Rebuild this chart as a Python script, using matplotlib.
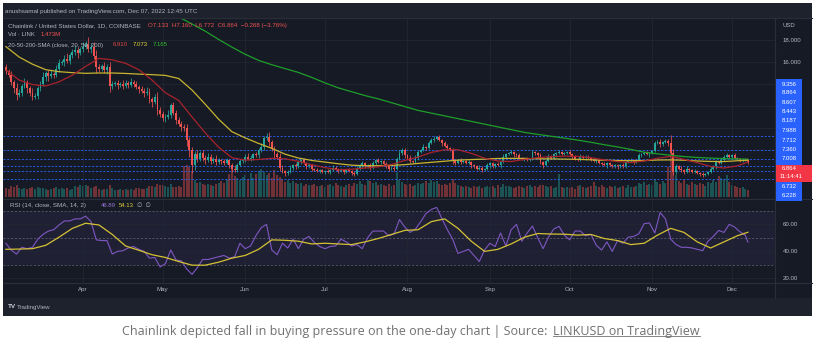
import matplotlib.pyplot as plt
import numpy as np
import pandas as pd
from matplotlib.patches import Rectangle
from matplotlib.lines import Line2D

plt.rcParams['font.family'] = ['Liberation Sans', 'DejaVu Sans']

# ---- data (LINK/USD daily) ----
dates = pd.date_range('2022-03-03', '2022-12-07', freq='D')
first_open = 15.5
closes = [
    15.2, 14.8, 14.2, 13.6, 13.0, 13.2, 13.8, 14.1, 13.6, 13.2,
    12.8, 12.9, 13.6, 14.0, 14.6, 15.0, 14.7, 14.9, 14.8, 15.4,
    15.9, 16.0, 16.3, 16.1, 16.6, 16.9, 17.1, 16.8, 17.2, 17.4,
    17.6, 17.2, 17.4, 16.5, 15.5, 15.4, 15.6, 15.3, 15.5, 13.8,
    14.0, 14.1, 13.9, 14.0, 13.8, 14.1, 13.9, 14.2, 14.0, 13.7,
    13.5, 13.4, 13.2, 13.3, 12.6, 12.4, 12.8, 11.6, 11.3, 10.9,
    11.0, 11.2, 12.1, 11.4, 10.7, 10.4, 10.1, 10.0, 8.9, 8.0,
    6.6, 7.6, 7.2, 7.7, 7.3, 7.1, 7.4, 7.0, 7.2, 6.9,
    7.1, 7.0, 6.8, 7.1, 6.6, 6.3, 6.2, 6.6, 7.0, 7.1,
    7.4, 7.2, 7.3, 7.6, 7.5, 8.0, 8.3, 9.1, 9.2, 8.7,
    8.1, 7.6, 7.4, 6.4, 6.1, 5.9, 6.0, 6.4, 6.6, 6.5,
    6.9, 7.1, 6.8, 6.5, 6.6, 6.3, 6.2, 6.1, 6.2, 6.0,
    6.1, 6.0, 6.2, 6.4, 6.3, 6.1, 6.2, 6.0, 6.2, 6.1,
    5.9, 5.8, 6.3, 6.6, 6.8, 6.5, 6.6, 6.4, 6.8, 7.1,
    6.9, 7.0, 6.7, 6.5, 6.3, 6.4, 6.3, 7.2, 7.7, 8.0,
    7.5, 7.3, 7.0, 6.9, 7.3, 7.8, 8.0, 8.3, 8.2, 8.6,
    8.9, 9.0, 9.2, 8.9, 8.6, 8.4, 8.2, 8.0, 7.0, 6.8,
    7.1, 6.9, 7.0, 6.8, 6.9, 6.6, 6.5, 6.3, 6.4, 6.2,
    6.3, 6.6, 6.8, 6.5, 6.7, 6.6, 6.9, 7.4, 7.6, 7.7,
    7.8, 7.6, 7.5, 7.3, 7.2, 7.3, 7.1, 7.2, 7.8, 7.7,
    7.5, 6.9, 6.6, 7.0, 7.4, 7.3, 7.6, 7.7, 7.8, 7.6,
    7.7, 7.8, 7.6, 7.4, 7.2, 7.1, 7.4, 7.3, 7.4, 7.3,
    7.1, 7.0, 7.1, 6.8, 6.7, 6.6, 6.8, 6.6, 6.5, 6.6,
    6.5, 6.6, 6.5, 6.9, 7.0, 7.1, 6.9, 7.1, 7.5, 7.6,
    7.7, 7.6, 7.7, 7.9, 8.6, 8.7, 8.5, 8.7, 8.8, 8.6,
    7.7, 6.0, 6.5, 6.3, 6.2, 6.0, 6.3, 6.2, 6.0, 6.1,
    5.9, 5.8, 5.7, 5.8, 6.0, 6.3, 6.5, 6.9, 6.8, 7.1,
    7.4, 7.5, 7.4, 7.5, 7.3, 7.2, 7.0, 7.1, 7.133, 6.864,
]
wick_hi = [
    .3, .2, .4, .2, .5, .3, .2, .4, .3, .2,
    .4, .3, .2, .3, .5, .2, .3, .4, .2, .3,
    .4, .2, .3, .5, .2, .3, .4, .3, .2, .4,
    .3, .7, .3, .4, .6, .3, .2, .4, .3, .5,
    .3, .2, .3, .2, .4, .3, .2, .3, .2, .3,
    .2, .3, .2, .4, .3, .2, .3, .5, .3, .2,
    .3, .4, .2, .3, .2, .3, .2, .3, .4, .3,
    .3, .3, .4, .2, .3, .2, .3, .2, .2, .3,
    .2, .1, .2, .2, .1, .2, .3, .2, .2, .1,
    .2, .3, .2, .1, .2, .2, .3, .2, .3, .4,
    .2, .3, .2, .3, .2, .1, .2, .2, .1, .2,
    .2, .1, .2, .1, .2, .1, .1, .2, .1, .1,
    .1, .2, .1, .2, .1, .1, .2, .1, .1, .2,
    .1, .2, .2, .1, .2, .1, .1, .2, .2, .1,
    .2, .1, .1, .2, .1, .1, .2, .2, .3, .2,
    .2, .1, .2, .1, .2, .2, .1, .2, .1, .2,
    .2, .3, .1, .2, .1, .2, .1, .1, .2, .2,
    .1, .2, .1, .1, .2, .1, .1, .1, .2, .1,
    .1, .2, .1, .1, .1, .2, .1, .2, .1, .1,
    .2, .1, .1, .2, .1, .1, .1, .1, .2, .1,
    .1, .2, .1, .1, .2, .1, .1, .1, .2, .1,
    .1, .1, .2, .1, .1, .1, .2, .1, .1, .1,
    .1, .2, .1, .1, .1, .2, .1, .1, .1, .1,
    .1, .1, .2, .1, .1, .2, .1, .1, .2, .1,
    .1, .2, .1, .1, .2, .2, .3, .1, .2, .2,
    .76, .4, .2, .1, .2, .1, .2, .1, .1, .2,
    .1, .1, .2, .1, .1, .2, .1, .2, .1, .2,
    .1, .2, .1, .1, .2, .1, .1, .1, .03, .027,
]
wick_lo = [
    .3, .2, .3, .4, .5, .2, .3, .2, .4, .3,
    .3, .2, .3, .2, .2, .3, .4, .2, .3, .2,
    .3, .2, .4, .2, .3, .2, .3, .4, .2, .3,
    .2, .3, .4, .2, .5, .3, .2, .3, .4, .5,
    .3, .2, .4, .2, .3, .2, .3, .2, .3, .2,
    .3, .2, .4, .2, .3, .5, .2, .4, .3, .3,
    .4, .2, .3, .2, .3, .2, .4, .3, .5, .6,
    .7, .4, .3, .2, .3, .4, .2, .3, .2, .3,
    .2, .3, .2, .1, .2, .3, .2, .2, .1, .2,
    .2, .1, .2, .2, .1, .2, .2, .3, .2, .3,
    .2, .3, .2, .3, .2, .3, .2, .1, .2, .2,
    .1, .2, .1, .2, .1, .2, .1, .1, .2, .1,
    .2, .1, .2, .1, .1, .2, .1, .2, .1, .1,
    .2, .2, .1, .1, .2, .1, .1, .2, .1, .2,
    .1, .2, .1, .1, .2, .1, .2, .1, .1, .2,
    .2, .1, .2, .1, .1, .2, .1, .1, .2, .1,
    .1, .2, .1, .1, .2, .1, .2, .1, .3, .2,
    .1, .2, .1, .1, .1, .2, .1, .1, .1, .2,
    .1, .1, .2, .1, .1, .1, .2, .1, .1, .1,
    .1, .2, .1, .1, .1, .2, .1, .1, .1, .2,
    .1, .2, .2, .1, .1, .1, .1, .2, .1, .1,
    .1, .1, .1, .2, .1, .1, .1, .1, .2, .1,
    .1, .1, .2, .1, .1, .1, .2, .1, .1, .1,
    .2, .1, .1, .1, .1, .1, .2, .1, .1, .1,
    .1, .1, .2, .1, .1, .1, .2, .1, .1, .2,
    .2, .3, .2, .1, .2, .2, .1, .2, .1, .1,
    .1, .2, .2, .1, .1, .1, .1, .2, .1, .1,
    .1, .1, .1, .2, .1, .1, .1, .1, .1, .092,
]
# volume, millions of LINK
volume = [
    1.8, 1.6, 2.3, 2.0, 2.4, 1.9, 1.7, 1.8, 1.6, 1.9,
    2.0, 1.7, 2.1, 1.9, 1.8, 1.6, 1.5, 1.7, 1.8, 2.0,
    1.7, 1.9, 1.6, 1.8, 1.5, 1.7, 2.2, 2.0, 2.4, 2.3,
    2.5, 2.2, 1.9, 2.0, 2.3, 1.6, 1.5, 1.7, 1.6, 2.4,
    1.8, 1.5, 1.4, 1.6, 1.5, 1.7, 1.4, 1.6, 1.5, 1.9,
    1.8, 1.7, 1.6, 1.9, 2.3, 2.2, 2.0, 2.6, 2.4, 2.5,
    2.2, 2.0, 2.6, 2.1, 2.0, 2.3, 2.1, 6.2, 6.5, 6.0,
    5.2, 3.4, 2.8, 3.0, 2.6, 2.4, 2.7, 2.5, 2.3, 2.6,
    2.8, 3.2, 2.9, 3.6, 4.6, 5.6, 4.2, 3.8, 3.4, 4.0,
    4.4, 3.6, 4.8, 3.9, 4.6, 5.2, 5.6, 5.0, 4.4, 4.8,
    3.8, 5.4, 4.4, 4.0, 3.6, 3.0, 3.4, 2.8, 3.2, 2.9,
    2.6, 2.8, 2.3, 2.7, 2.5, 2.4, 2.6, 2.3, 2.2, 2.5,
    2.1, 2.4, 2.6, 2.2, 2.8, 2.5, 2.3, 2.0, 2.4, 2.6,
    2.3, 2.9, 2.6, 3.2, 2.7, 2.5, 3.4, 3.2, 2.8, 3.0,
    2.5, 2.7, 2.4, 2.2, 2.6, 2.3, 2.5, 5.0, 3.4, 3.1,
    2.7, 2.4, 2.6, 2.2, 2.5, 2.9, 2.6, 2.8, 3.3, 2.9,
    3.4, 3.0, 3.2, 2.7, 2.4, 2.6, 2.5, 2.8, 3.6, 2.9,
    2.4, 2.2, 2.0, 2.3, 2.1, 1.9, 2.2, 2.0, 2.3, 1.8,
    2.1, 2.3, 2.0, 2.2, 1.9, 2.4, 2.1, 2.6, 2.3, 2.2,
    2.0, 1.9, 2.1, 2.3, 2.0, 1.8, 2.2, 2.4, 2.0, 2.3,
    2.1, 2.5, 2.5, 2.3, 2.0, 2.2, 1.9, 2.1, 4.6, 2.0,
    1.8, 2.1, 1.9, 2.0, 1.7, 2.2, 2.4, 2.0, 1.8, 2.1,
    2.3, 3.0, 2.2, 2.0, 2.4, 2.1, 1.9, 2.2, 2.0, 2.3,
    1.8, 2.0, 2.2, 1.9, 2.4, 2.1, 2.0, 2.3, 2.9, 2.6,
    3.1, 2.5, 2.7, 2.4, 3.6, 3.0, 2.7, 3.2, 2.8, 6.0,
    9.4, 7.0, 4.4, 3.2, 2.8, 3.4, 2.6, 2.4, 3.0, 2.7,
    2.5, 2.9, 2.6, 2.3, 3.0, 2.8, 3.4, 3.0, 4.2, 3.8,
    3.6, 4.4, 3.0, 2.4, 2.2, 2.0, 1.8, 2.0, 1.7, 1.473,
]
# moving averages sampled every 5 sessions (+ last session)
sma_idx = list(range(0, 280, 5)) + [279]
sma20 = [15.27, 14.36, 13.95, 13.82, 14.2, 14.8, 15.6, 16.33, 16.2, 15.88,
         15.3, 14.35, 13.2, 12.5, 11.0, 9.55, 8.25, 7.3, 7.08, 7.14,
         7.24, 7.2, 6.97, 6.65, 6.4, 6.2, 6.25, 6.36, 6.47, 6.68,
         7.05, 7.36, 7.78, 8.02, 8.02, 7.7, 7.25, 7.0, 6.95, 7.15,
         7.3, 7.4, 7.44, 7.42, 7.3, 7.1, 6.95, 6.86, 7.0, 7.25,
         7.42, 7.15, 6.85, 6.5, 6.36, 6.55, 6.91]
sma50 = [17.4, 16.45, 15.8, 15.3, 15.12, 15.03, 14.97, 15.0, 15.0, 14.96,
         14.9, 14.85, 14.78, 14.5, 13.45, 12.15, 10.8, 9.66, 9.1, 8.6,
         8.15, 7.62, 7.27, 7.05, 6.9, 6.75, 6.62, 6.57, 6.57, 6.6,
         6.67, 6.78, 6.88, 6.98, 7.08, 7.13, 7.17, 7.23, 7.24, 7.23,
         7.2, 7.19, 7.17, 7.15, 7.11, 7.07, 7.04, 7.03, 7.04, 7.09,
         7.1, 7.07, 7.0, 6.96, 6.95, 7.02, 7.073]
sma200_idx = list(range(65, 280, 5)) + [279]
sma200 = [20.1, 19.45, 18.8, 18.05, 17.35, 16.7, 16.15, 15.75, 15.4, 15.05,
          14.6, 14.1, 13.65, 13.3, 12.95, 12.65, 12.3, 11.95, 11.6, 11.35,
          11.1, 10.85, 10.6, 10.35, 10.1, 9.85, 9.6, 9.42, 9.25, 9.08,
          8.9, 8.7, 8.48, 8.28, 8.05, 7.8, 7.65, 7.52, 7.4, 7.32,
          7.26, 7.22, 7.19, 7.165]
# RSI(14) every 2 sessions, its SMA(14) every 5 sessions
rsi_idx = list(range(0, 280, 2)) + [279]
rsi = [46, 41, 38, 43, 42, 43, 49, 52.6, 55, 56,
       59.5, 62.5, 62.5, 64, 64, 66, 62, 48.5, 48, 48,
       38, 40, 40.5, 42.5, 43.6, 41.5, 40, 35, 35.5, 28.5,
       31, 41, 33.6, 33, 27, 23, 28, 34, 34, 35,
       36, 37, 35, 36, 46, 42, 44, 51.5, 57.5, 60,
       41, 37.5, 46, 42.5, 49, 42, 49, 51, 46.5, 43.6,
       42, 43.6, 44, 49, 47, 44, 45, 42, 50, 55,
       55, 55, 51.5, 53, 63.5, 58, 54, 56.5, 62, 68,
       71, 72.5, 64, 56, 49, 38.5, 40, 41.5, 37, 32.5,
       41, 46, 43.6, 53.6, 44, 56, 60, 47.5, 53.6, 58.7,
       50, 42, 50.5, 56.5, 58.5, 52, 48.5, 55, 55, 51.5,
       52.5, 44.5, 41, 47, 40, 48, 46, 50.5, 51, 53,
       60.5, 61, 53.6, 68.7, 64, 49, 45, 43, 43, 42.5,
       41.5, 40.5, 47.5, 51, 55.5, 54, 60, 58, 54.5, 52,
       46.89]
rsi_ma_idx = list(range(0, 280, 5)) + [279]
rsi_ma = [41.5, 41.7, 42, 44.5, 50.5, 57, 60.8, 59.5, 52.5, 44,
          40.8, 37.5, 35.5, 32.5, 29.8, 29.8, 32, 35, 37, 41.5,
          48.5, 48.2, 47.5, 45.5, 46, 45.5, 45, 47, 49.5, 52.5,
          55.5, 56, 62, 64, 57, 47.5, 40, 41.5, 45.5, 50.5,
          53.2, 52.8, 52.7, 52, 52.5, 49.5, 48, 45, 46, 52,
          57, 54, 47, 42.5, 47, 51.5, 54.13]
level_lines = [9.27, 8.0, 7.18, 6.55, 6.09, 5.36]
level_labels = ['9.356', '8.864', '8.607', '8.443', '8.187', '7.988',
                '7.712', '7.360', '7.008', '6.732', '6.228']
last_price = '6.864'
countdown = '11:14:41'

# ---- layout helpers (pixel coords, origin top-left) ----
W, H = 820, 350
BG = '#161A25'
BAND = '#1E222D'
TXT = '#B2B5BE'
SEP = '#2A2E39'
UP, DOWN = '#26A69A', '#EF5350'


def fx(x):
    return x / W


def fy(y):
    return 1 - y / H


def frame(x0, y0, x1, y1):
    return [fx(x0), fy(y1), (x1 - x0) / W, (y1 - y0) / H]


fig = plt.figure(figsize=(8.2, 3.5), dpi=100)
fig.patch.set_facecolor('white')


def rect(x0, y0, x1, y1, color, z=-5):
    fig.add_artist(Rectangle((fx(x0), fy(y1)), (x1 - x0) / W, (y1 - y0) / H,
                             transform=fig.transFigure, color=color, lw=0, zorder=z))


def hline(y, x0, x1):
    fig.add_artist(Line2D([fx(x0), fx(x1)], [fy(y), fy(y)], transform=fig.transFigure,
                          color=SEP, lw=0.8, zorder=10))


def txt(x, y, s, color=TXT, size=4.3, **kw):
    return fig.text(fx(x), fy(y), s, color=color, fontsize=size, va='center', **kw)


rect(3, 3, 812, 316, BG, -6)
rect(3, 3, 812, 18, BAND)
rect(3, 298, 812, 316, BAND)

# ---- price pane ----
ax = fig.add_axes(frame(3, 18, 775, 199))
ax_vol = ax.twinx()
ax.set_zorder(2)
ax_vol.set_zorder(1)
for a in (ax, ax_vol):
    a.patch.set_visible(False)
    for s in a.spines.values():
        s.set_visible(False)

idx = np.arange(len(closes))
c = np.array(closes)
o = np.array([first_open] + closes[:-1])
hi = np.maximum(o, c) + np.array(wick_hi)
lo = np.minimum(o, c) - np.array(wick_lo)
col = np.where(c >= o, UP, DOWN)

ax_vol.bar(idx, volume, width=0.75, color=col, alpha=0.42, lw=0)
ax_vol.set_ylim(-0.4, 35.8)
ax_vol.yaxis.set_visible(False)

for v in level_lines:
    ax.axhline(v, color='#2962FF', lw=0.7, ls=(0, (2.2, 1.6)), alpha=0.85, zorder=2)
ax.vlines(idx, lo, hi, colors=col, lw=0.55, zorder=3)
ax.bar(idx, np.maximum(np.abs(c - o), 0.03), bottom=np.minimum(o, c), width=0.7,
       color=col, lw=0, zorder=4)
ax.plot(sma200_idx, sma200, color='#1E9E2A', lw=0.9, zorder=5)
ax.plot(sma_idx, sma50, color='#C8B430', lw=0.9, zorder=5)
ax.plot(sma_idx, sma20, color='#A8232C', lw=0.9, zorder=5)

month_idx = np.where(dates.day == 1)[0]
month_lbl = dates[month_idx].strftime('%b')
ax.set_xlim(-1.08, 289.2)
ax.set_ylim(3.545, 20.0)
ax.set_xticks(month_idx)
ax.set_yticks([8, 10, 12, 14, 16, 18])
ax.set_yticklabels(['', '', '', '', '16.000', '18.000'])
ax.yaxis.tick_right()
ax.tick_params(axis='x', length=0, labelbottom=False)
ax.tick_params(axis='y', length=0, pad=5.5, labelsize=4.4, labelcolor=TXT)
ax.grid(True, color='#222632', lw=0.6, zorder=0)

# ---- RSI pane ----
ax_r = fig.add_axes(frame(3, 199, 775, 282.5), sharex=ax)
ax_r.patch.set_visible(False)
for s in ax_r.spines.values():
    s.set_visible(False)
ax_r.axhspan(30, 70, color='#7E57C2', alpha=0.1, lw=0)
for v in (70, 50, 30):
    ax_r.axhline(v, color='#787B86', lw=0.5, ls=(0, (3, 2.5)), alpha=0.8)
ax_r.plot(rsi_idx, rsi, color='#7E57C2', lw=0.8, zorder=4)
ax_r.plot(rsi_ma_idx, rsi_ma, color='#D4C234', lw=0.9, zorder=5)
ax_r.set_ylim(17.0, 78.7)
ax_r.set_yticks([20, 40, 60])
ax_r.set_yticklabels(['20.00', '40.00', '60.00'])
ax_r.yaxis.tick_right()
ax_r.set_xticks(month_idx)
ax_r.set_xticklabels(month_lbl)
ax_r.tick_params(axis='x', length=0, pad=3.5, labelsize=4.4, labelcolor=TXT)
ax_r.tick_params(axis='y', length=0, pad=5.5, labelsize=4.4, labelcolor=TXT)
ax_r.grid(True, color='#222632', lw=0.6, zorder=0)

# ---- separators ----
hline(18, 3, 812)
hline(199, 3, 812)
hline(282.5, 3, 812)
fig.add_artist(Line2D([fx(775.5), fx(775.5)], [fy(18), fy(298)], transform=fig.transFigure,
                      color=SEP, lw=0.8, zorder=10))

# ---- header / legends ----
txt(5, 11, 'anushsamal published on TradingView.com, Dec 07, 2022 12:45 UTC', size=4.5)
txt(8, 25.5, 'Chainlink / United States Dollar, 1D, COINBASE', size=4.5)
txt(148, 25.5, 'O7.133  H7.160  L6.772  C6.864  \u22120.268 (\u22123.76%)', color=DOWN, size=4.4)
txt(8, 35, 'Vol \u00b7 LINK')
txt(41, 35, '1.473M', color=DOWN)
txt(8, 45, '20-50-200-SMA (close, 20, 50, 200)', size=4.3)
txt(113, 45, '6.910', color='#E04848')
txt(133, 45, '7.073', color='#E0CF3A')
txt(153, 45, '7.165', color='#2DBE2D')
txt(10, 206, 'RSI (14, close, SMA, 14, 2)', size=4.5)
txt(101, 206, '46.89', color='#9575CD')
txt(119, 206, '54.13', color='#E0CF3A')
txt(137, 206, '\u2205  \u2205')
txt(783, 25.5, 'USD')

# ---- right-hand price labels ----
rect(776, 79, 802, 201, '#2962FF', 11)
label_y = [84.6, 92.8, 102.4, 111.6, 121, 130.4, 140, 149.5, 159, 187, 195.6]
for s, y in zip(level_labels, label_y):
    fig.text(fx(789), fy(y), s, color='white', fontsize=4.3, ha='center', va='center', zorder=12)
rect(776, 164.5, 812, 181.5, '#F23645', 11)
fig.text(fx(789), fy(169), last_price, color='white', fontsize=4.3, ha='center', va='center', zorder=12)
fig.text(fx(791), fy(177), countdown, color='white', fontsize=4.3, ha='center', va='center', zorder=12)

# ---- TradingView footer ----
txt(8, 307, 'TV', color='#D1D4DC', size=4.6, fontweight='bold')
txt(17, 307, 'TradingView', color=TXT, size=4.4)

# ---- caption ----
cap_l = fig.text(fx(551), fy(331), 'Chainlink depicted fall in buying pressure on the one-day chart | Source: ',
                 color='#707070', fontsize=9, ha='right', va='center', family=['Open Sans', 'DejaVu Sans'])
cap_r = fig.text(fx(553), fy(331), 'LINKUSD on TradingView', color='#707070', fontsize=9,
                 ha='left', va='center', family=['Open Sans', 'DejaVu Sans'])
fig.canvas.draw()
bb = cap_r.get_window_extent().transformed(fig.transFigure.inverted())
fig.add_artist(Line2D([bb.x0, bb.x1], [bb.y0 + 0.004, bb.y0 + 0.004], transform=fig.transFigure,
                      color='#707070', lw=0.6))

fig.savefig('out.png', dpi=100, facecolor='white')
